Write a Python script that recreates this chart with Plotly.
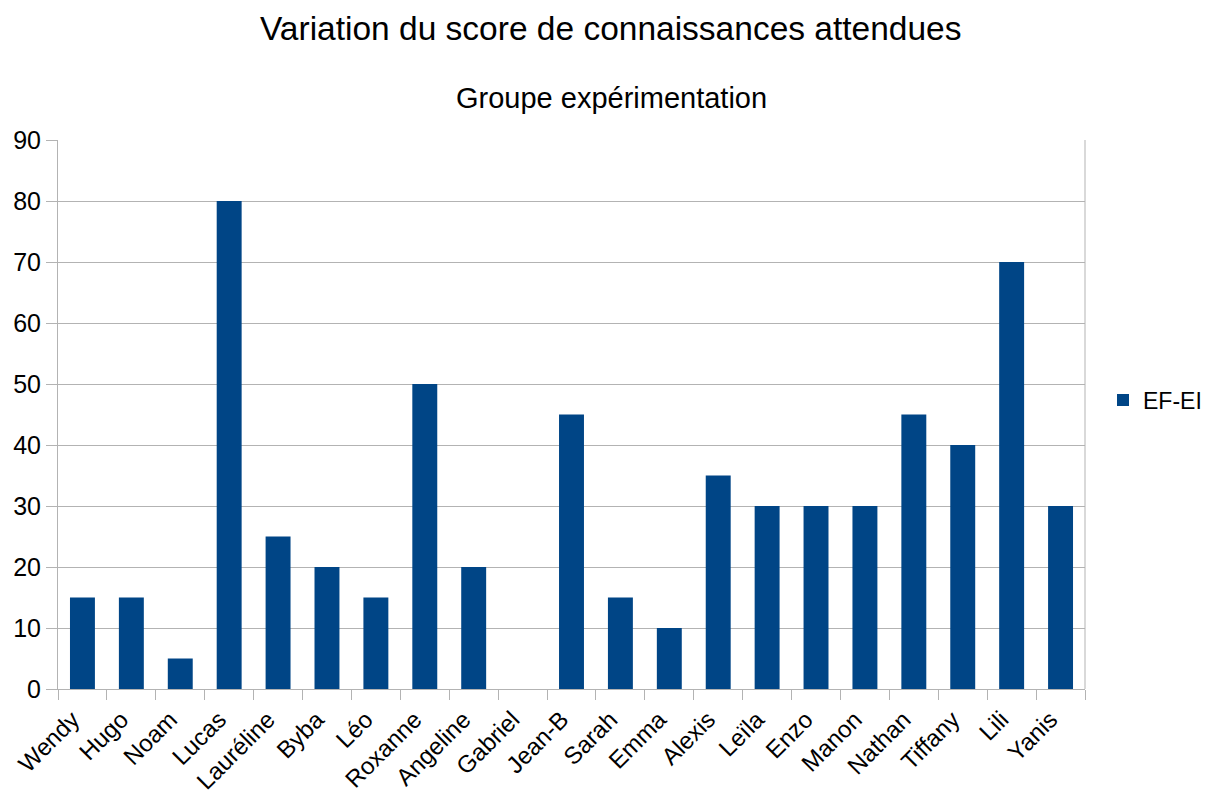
import plotly.graph_objects as go

names = ["Wendy", "Hugo", "Noam", "Lucas", "Lauréline", "Byba", "Léo", "Roxanne",
         "Angeline", "Gabriel", "Jean-B", "Sarah", "Emma", "Alexis", "Leïla", "Enzo",
         "Manon", "Nathan", "Tiffany", "Lili", "Yanis"]
ef_ei = [15, 15, 5, 80, 25, 20, 15, 50, 20, 0, 45, 15, 10, 35, 30, 30, 30, 45, 40, 70, 30]
y_ticks = [0, 10, 20, 30, 40, 50, 60, 70, 80, 90]

FONT = "Liberation Sans, Arial, sans-serif"
GRID = "#b3b3b3"

# page body has an 8px margin; figure coordinates are offset accordingly
W, H = 1211, 786
L, R, T, B = 50, 134, 132, 105
pw, ph = W - L - R, H - T - B


def px_x(x):
    return (x - 8 - L) / pw


def px_y(y):
    return (H - B - (y - 8)) / ph


fig = go.Figure()
fig.add_trace(go.Bar(x=names, y=ef_ei, name="EF-EI", marker_color="#004586",
                     marker_line_width=0))

fig.update_layout(
    width=W, height=H,
    margin=dict(l=L, r=R, t=T, b=B, autoexpand=False),
    plot_bgcolor="white", paper_bgcolor="white",
    font=dict(family=FONT, color="black", size=24),
    bargap=0.49,
    showlegend=True,
    legend=dict(x=px_x(1103), y=px_y(400), xanchor="left", yanchor="middle",
                font=dict(size=23), itemwidth=30),
    annotations=[
        dict(text="Variation du score de connaissances attendues",
             x=px_x(610), y=px_y(28), xref="paper", yref="paper",
             xanchor="center", yanchor="middle", showarrow=False,
             font=dict(size=33.5)),
        dict(text="Groupe expérimentation",
             x=px_x(611), y=px_y(98), xref="paper", yref="paper",
             xanchor="center", yanchor="middle", showarrow=False,
             font=dict(size=29)),
    ],
)

fig.update_xaxes(
    showgrid=False, showline=True, linecolor=GRID, linewidth=1,
    ticks="outside", tickson="boundaries", ticklen=10, tickcolor=GRID,
    tickangle=-45, tickfont=dict(size=24), automargin=False,
    ticklabelshift=-10, ticklabelstandoff=6,
)
fig.update_yaxes(
    range=[0, 90], tickvals=y_ticks, showgrid=True, gridcolor=GRID,
    showline=True, linecolor=GRID, linewidth=1,
    ticks="outside", ticklen=11, tickcolor=GRID, tickfont=dict(size=25),
    zeroline=False, automargin=False,
)
fig.add_shape(type="line", xref="paper", yref="paper", x0=1, x1=1, y0=0, y1=1,
              line=dict(color=GRID, width=1))

fig.write_html("out.html")
